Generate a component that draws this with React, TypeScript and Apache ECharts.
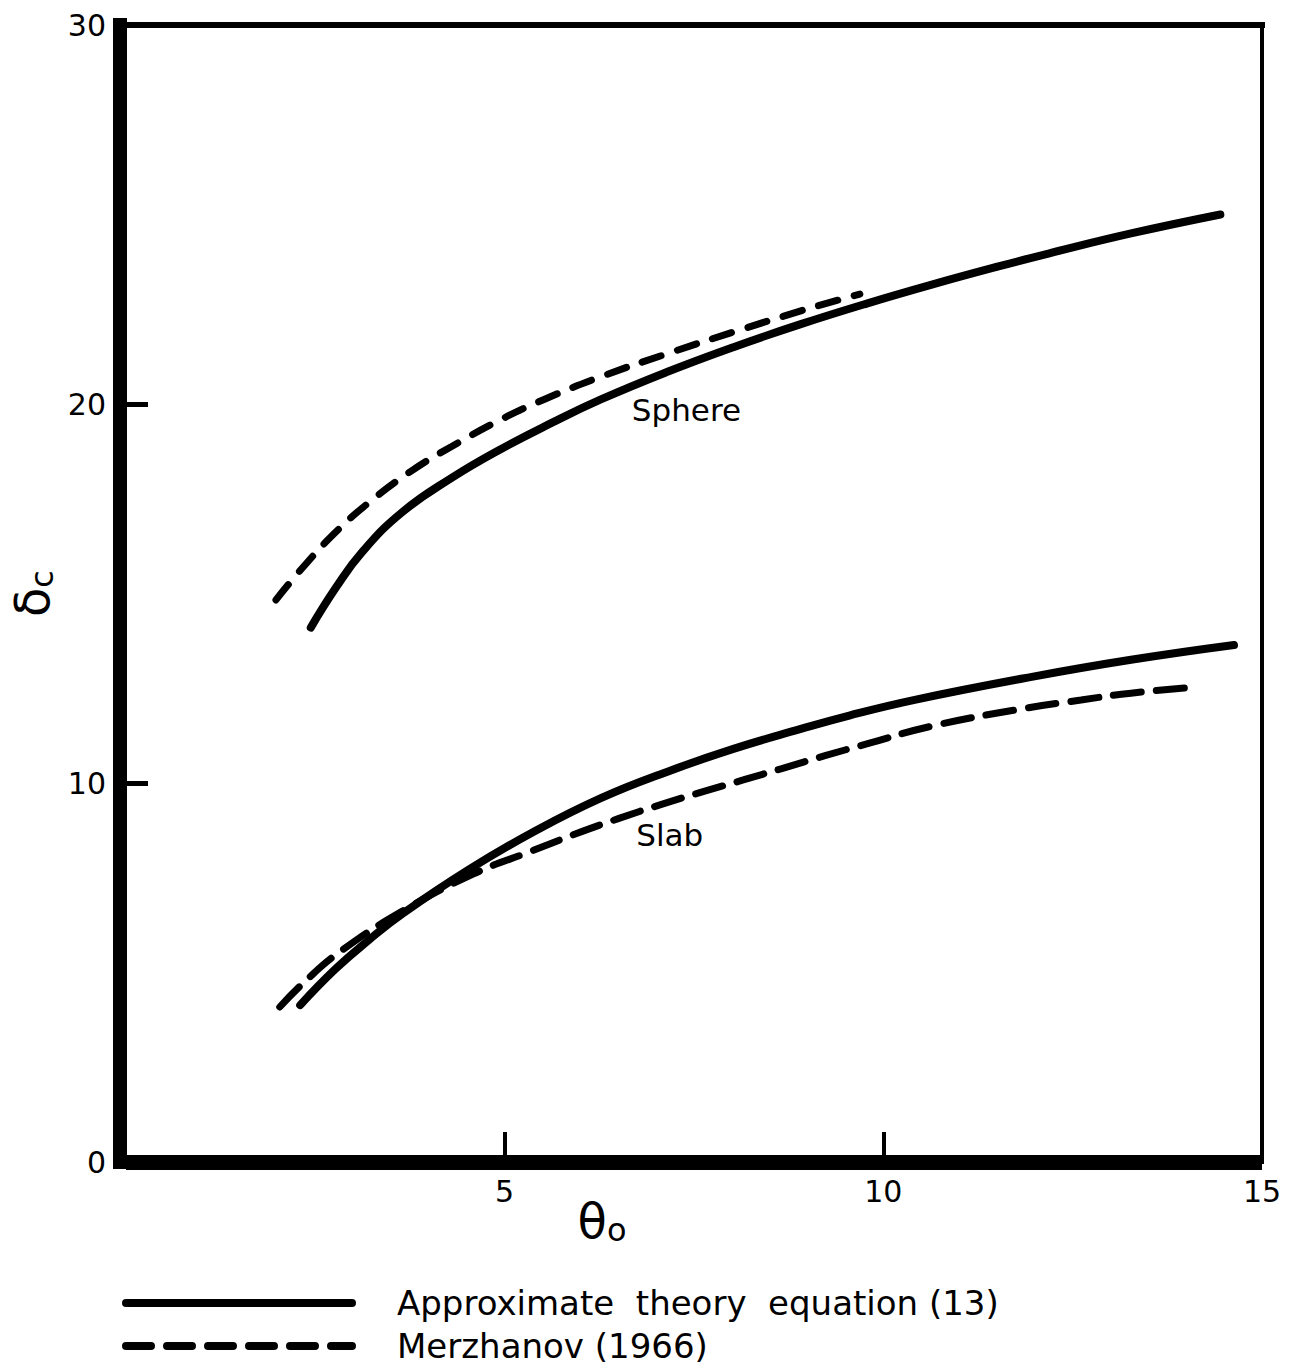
import React, { useEffect, useRef } from "react";
import * as echarts from "echarts";

const SOLID_NAME = "Approximate  theory  equation (13)";
const DASHED_NAME = "Merzhanov (1966)";

const sphereSolid: [number, number][] = [
  [2.44, 14.1], [2.77, 15.15], [3.12, 16.1], [3.65, 17.15], [4.30, 18.05],
  [4.96, 18.82], [5.62, 19.5], [6.27, 20.12], [7.15, 20.85], [8.02, 21.5],
  [8.90, 22.1], [9.78, 22.65], [10.64, 23.15], [11.52, 23.63], [12.18, 23.97],
  [13.27, 24.5], [14.45, 25.0],
];
const sphereDashed: [number, number][] = [
  [1.98, 14.83], [2.34, 15.7], [2.77, 16.62], [3.22, 17.42], [3.78, 18.25],
  [4.30, 18.88], [4.96, 19.6], [5.52, 20.12], [6.27, 20.72], [7.15, 21.33],
  [8.02, 21.9], [8.90, 22.45], [9.33, 22.7], [9.69, 22.9],
];
const slabSolid: [number, number][] = [
  [2.30, 4.14], [2.77, 5.1], [3.22, 5.88], [3.65, 6.55], [4.53, 7.72],
  [5.39, 8.72], [6.27, 9.6], [7.15, 10.3], [8.02, 10.9], [8.90, 11.42],
  [9.55, 11.78], [10.43, 12.2], [11.96, 12.8], [13.27, 13.25], [14.63, 13.64],
];
const slabDashed: [number, number][] = [
  [2.03, 4.09], [2.34, 4.72], [2.82, 5.54], [3.65, 6.62], [4.61, 7.62],
  [5.35, 8.2], [5.94, 8.66], [6.50, 9.06], [7.06, 9.43], [7.62, 9.77],
  [8.15, 10.08], [8.66, 10.38], [9.23, 10.72], [9.78, 11.03], [10.64, 11.5],
  [11.75, 11.93], [12.61, 12.19], [13.27, 12.37], [14.11, 12.53],
];
const curveLabels = [
  { text: "Sphere", x: 7.4, y: 19.85 },
  { text: "Slab", x: 7.18, y: 8.63 },
];
const xLabelValues = [5, 10, 15];
const xTickValues = [5, 10];
const yLabelValues = [0, 10, 20, 30];
const yTickValues = [10, 20];

const FONT = "DejaVu Sans";

export default function App() {
  const ref = useRef<HTMLDivElement>(null);
  useEffect(() => {
    document.body.style.margin = "0";
    if (!ref.current) return;
    const chart = echarts.init(ref.current, null, { renderer: "svg" });
    const solidStyle = { color: "#000", width: 8, type: "solid" as const, cap: "round" as const };
    const sphereDash = { color: "#000", width: 7, type: [20, 17], cap: "round" as const };
    const slabDash = { color: "#000", width: 7, type: [28, 15], cap: "round" as const };
    const legendBase = {
      orient: "horizontal",
      left: 122,
      padding: 0,
      itemWidth: 226,
      itemHeight: 16,
      selectedMode: false,
      itemStyle: { color: "rgba(0,0,0,0)", borderWidth: 0, opacity: 0 },
      textStyle: {
        fontSize: 34,
        color: "#000",
        fontFamily: FONT,
        padding: [0, 0, 6, 40],
      },
    };
    const lineSeries = (name: string, data: [number, number][], lineStyle: any) => ({
      name,
      type: "line",
      data,
      smooth: 0.45,
      showSymbol: false,
      symbol: "none",
      lineStyle,
      itemStyle: { color: "#000" },
    });
    chart.setOption({
      animation: false,
      backgroundColor: "#fff",
      textStyle: { fontFamily: FONT, color: "#000" },
      grid: { left: 122, top: 25, width: 1140, height: 1137, containLabel: false },
      legend: [
        {
          ...legendBase,
          data: [SOLID_NAME],
          top: 1286,
          lineStyle: { color: "#000", width: 8, type: "solid", cap: "round" },
        },
        {
          ...legendBase,
          data: [DASHED_NAME],
          top: 1329,
          lineStyle: { color: "#000", width: 8, type: [25, 16], cap: "round" },
        },
      ],
      xAxis: [
        {
          type: "value",
          min: 0,
          max: 15,
          interval: 5,
          position: "bottom",
          name: "{t|θ}{s|o}",
          nameLocation: "middle",
          nameGap: 34,
          nameMoveOverlap: false,
          nameTextStyle: {
            padding: [0, 184, 0, 0],
            rich: {
              t: { fontSize: 48, fontFamily: FONT, color: "#000" },
              s: { fontSize: 32, fontFamily: FONT, color: "#000", padding: [18, 0, 0, 0] },
            },
          },
          axisLine: { show: true, lineStyle: { color: "#000", width: 15, cap: "butt" } },
          axisTick: {
            show: true,
            inside: true,
            length: 30,
            customValues: xTickValues,
            lineStyle: { color: "#000", width: 4 },
          },
          axisLabel: {
            show: true,
            customValues: xLabelValues,
            fontSize: 30,
            margin: 14,
            color: "#000",
            fontFamily: FONT,
          },
          splitLine: { show: false },
        },
        {
          type: "value",
          min: 0,
          max: 15,
          position: "top",
          axisLine: { show: true, onZero: false, lineStyle: { color: "#000", width: 6, cap: "square" } },
          axisTick: { show: false },
          axisLabel: { show: false },
          splitLine: { show: false },
        },
      ],
      yAxis: [
        {
          type: "value",
          min: 0,
          max: 30,
          interval: 10,
          position: "left",
          offset: 6,
          name: "{d|δ}{s|c}",
          nameLocation: "middle",
          nameRotate: 90,
          nameGap: 62,
          nameMoveOverlap: false,
          nameTextStyle: {
            rich: {
              d: { fontSize: 48, fontFamily: FONT, color: "#000" },
              s: { fontSize: 32, fontFamily: FONT, color: "#000", padding: [20, 0, 0, 0] },
            },
          },
          axisLine: { show: true, onZero: false, lineStyle: { color: "#000", width: 14, cap: "square" } },
          axisTick: {
            show: true,
            inside: true,
            length: 28,
            customValues: yTickValues,
            lineStyle: { color: "#000", width: 5 },
          },
          axisLabel: {
            show: true,
            customValues: yLabelValues,
            fontSize: 30,
            margin: 14,
            color: "#000",
            fontFamily: FONT,
          },
          splitLine: { show: false },
        },
        {
          type: "value",
          min: 0,
          max: 30,
          position: "right",
          axisLine: { show: true, onZero: false, lineStyle: { color: "#000", width: 4, cap: "square" } },
          axisTick: { show: false },
          axisLabel: { show: false },
          splitLine: { show: false },
        },
      ],
      series: [
        lineSeries(SOLID_NAME, sphereSolid, solidStyle),
        lineSeries(DASHED_NAME, sphereDashed, sphereDash),
        lineSeries(SOLID_NAME, slabSolid, solidStyle),
        lineSeries(DASHED_NAME, slabDashed, slabDash),
        {
          name: "labels",
          type: "scatter",
          symbolSize: 0,
          silent: true,
          data: curveLabels.map((l) => ({ value: [l.x, l.y], name: l.text })),
          label: {
            show: true,
            position: "inside",
            formatter: (p: any) => p.name,
            fontSize: 31,
            color: "#000",
            opacity: 1,
            fontFamily: FONT,
          },
          itemStyle: { color: "transparent" },
        },
      ],
    });
    return () => chart.dispose();
  }, []);
  return <div ref={ref} style={{ width: 1299, height: 1367 }} />;
}
